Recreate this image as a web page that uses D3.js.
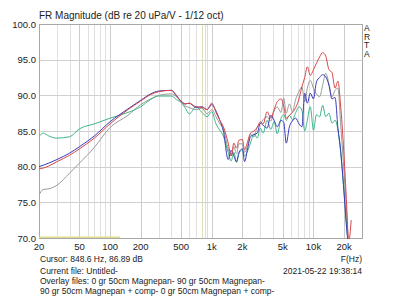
<!DOCTYPE html>
<html>
<head>
<meta charset="utf-8">
<script src="https://cdn.jsdelivr.net/npm/d3@7"></script>
<style>
  body { margin: 0; background: #fff; }
  svg { display: block; font-family: "Liberation Sans", Arial, sans-serif; }
</style>
</head>
<body>
<div id="chart"></div>
<script>
// frequency grid (Hz) shared by the four measured curves
const freqs = [20, 22, 25, 30, 40, 50, 70, 100, 150, 200, 250, 300, 400, 450, 500, 550, 600, 700, 800, 900,
  1000, 1100, 1200, 1300, 1450, 1550, 1650, 1750, 1850, 2000, 2100, 2250, 2400, 2600, 2800, 3000, 3200, 3500,
  3800, 4100, 4400, 4800, 5100, 5400, 5800, 6200, 6700, 7200, 7700, 8200, 8700, 9300, 10000, 10700, 11500,
  12300, 13200, 14200, 15200, 16300, 17400, 18500, 19700, 21000, 22200, 23500];

const grayCurrent = [76.0, 76.8, 76.9, 77.4, 79.1, 80.5, 82.7, 85.5, 87.2, 88.7, 89.5, 90.0, 90.2, 89.8, 89.1, 88.5, 88.3, 88.0, 88.2, 87.4,
  88.0, 87.0, 86.0, 85.3, 82.5, 81.5, 82.8, 81.8, 83.2, 83.2, 82.0, 83.0, 84.5, 84.2, 85.6, 86.0, 86.6, 87.0,
  86.4, 87.8, 88.4, 87.6, 89.6, 87.5, 88.8, 87.7, 89.5, 90.5, 91.2, 89.1, 91.0, 92.1, 91.0, 90.2, 89.8,
  91.4, 93.1, 91.6, 89.8, 90.7, 91.0, 86.0, 80.5, 74.5, 69.0, 67.0];

const green0gr = [84.2, 84.7, 84.3, 84.0, 84.2, 85.3, 86.0, 86.8, 87.6, 88.4, 89.4, 89.9, 89.9, 89.4, 89.0, 88.2, 87.4, 88.4, 87.6, 87.0,
  87.7, 86.0, 85.1, 84.3, 82.0, 80.8, 82.0, 80.6, 81.8, 82.4, 81.5, 82.2, 83.3, 84.6, 84.0, 85.4, 84.7, 86.5,
  85.2, 86.3, 84.6, 86.8, 87.3, 86.5, 87.2, 86.6, 87.6, 88.4, 87.9, 85.0, 86.5, 88.4, 85.1, 87.3, 87.0,
  88.6, 87.0, 87.5, 86.1, 86.5, 85.1, 82.0, 77.5, 72.5, 68.5, 67.0];

const red90gr = [79.7, 79.8, 80.1, 80.7, 81.6, 82.5, 84.0, 86.0, 88.0, 89.2, 90.1, 90.5, 90.7, 90.0, 89.1, 88.8, 88.9, 88.4, 88.3, 88.0,
  88.9, 87.6, 86.5, 85.6, 83.3, 81.5, 83.3, 82.6, 83.7, 83.8, 82.4, 83.5, 84.7, 85.0, 85.5, 86.3, 86.0, 87.7,
  86.8, 88.0, 89.1, 89.5, 88.5, 86.8, 87.2, 87.6, 88.3, 89.5, 91.2, 92.5, 94.0, 92.8, 93.6, 94.5, 95.4,
  96.0, 95.5, 93.6, 93.2, 91.0, 92.0, 88.5, 83.0, 75.8, 69.5, 72.5];

const blue90comp = [80.0, 80.2, 80.5, 81.0, 81.9, 82.8, 84.3, 86.3, 88.1, 89.3, 90.2, 90.6, 90.7, 89.9, 89.2, 88.8, 88.9, 88.3, 88.4, 88.0,
  88.7, 87.8, 86.5, 85.0, 81.0, 82.3, 81.5, 80.7, 82.0, 82.5, 80.7, 82.5, 84.2, 84.5, 84.7, 86.1, 85.8, 85.4,
  87.2, 86.5, 85.6, 86.5, 86.2, 83.3, 85.6, 86.4, 86.8, 86.0, 85.6, 90.3, 88.9, 90.3, 89.5, 91.9, 92.5,
  92.9, 92.6, 91.4, 89.5, 89.7, 85.4, 82.3, 77.5, 72.0, 68.5, 67.0];

// trace lying on the bottom of the plot
const floorFreqs = [20, 125];
const floorValues = [70.1, 70.1];

const yTicks = [70, 75, 80, 85, 90, 95, 100];
const xLabelTicks = [20, 50, 100, 200, 500, 1000, 2000, 5000, 10000, 20000];
const xGridTicks = [30, 40, 50, 60, 70, 80, 90, 100, 200, 300, 400, 500, 600, 700,
  1000, 2000, 3000, 4000, 5000, 6000, 7000, 8000, 9000, 10000, 20000];
const markerFreqs = [800, 848.6, 900];

const width = 400;
const height = 297;
const margin = { top: 24, right: 38, bottom: 59, left: 39 };

const svg = d3.select("#chart")
  .append("svg")
  .attr("width", width)
  .attr("height", height);

const x = d3.scaleLog()
  .domain([20, 30000])
  .range([margin.left, width - margin.right]);

const y = d3.scaleLinear()
  .domain([70, 100])
  .range([height - margin.bottom, margin.top]);

const fmtFreq = d => d >= 1000 ? (d / 1000) + "k" : String(d);

// grid
svg.append("g")
  .selectAll("line")
  .data(xGridTicks)
  .join("line")
  .attr("x1", d => Math.round(x(d)) + 0.5)
  .attr("x2", d => Math.round(x(d)) + 0.5)
  .attr("y1", margin.top)
  .attr("y2", height - margin.bottom)
  .attr("stroke", d => xLabelTicks.includes(d) ? "#cccccc" : "#e0e0e0")
  .attr("stroke-width", 1);

svg.append("g")
  .selectAll("line")
  .data(markerFreqs)
  .join("line")
  .attr("x1", d => Math.round(x(d)) + 0.5)
  .attr("x2", d => Math.round(x(d)) + 0.5)
  .attr("y1", margin.top)
  .attr("y2", height - margin.bottom)
  .attr("stroke", "#e2e0b8")
  .attr("stroke-width", 1);

svg.append("g")
  .selectAll("line")
  .data(yTicks.slice(1, -1))
  .join("line")
  .attr("x1", margin.left)
  .attr("x2", width - margin.right)
  .attr("y1", d => Math.round(y(d)) + 0.5)
  .attr("y2", d => Math.round(y(d)) + 0.5)
  .attr("stroke", "#d0d0d0");

// frame
svg.append("rect")
  .attr("x", margin.left + 0.5)
  .attr("y", margin.top + 0.5)
  .attr("width", width - margin.left - margin.right)
  .attr("height", height - margin.top - margin.bottom)
  .attr("fill", "none")
  .attr("stroke", "#a8a8a8");

svg.append("clipPath")
  .attr("id", "plot-clip")
  .append("rect")
  .attr("x", margin.left)
  .attr("y", margin.top)
  .attr("width", width - margin.left - margin.right)
  .attr("height", height - margin.top - margin.bottom + 1);

const line = d3.line()
  .x(d => x(d[0]))
  .y(d => y(d[1]))
  .curve(d3.curveMonotoneX);

const series = [
  { values: grayCurrent, color: "#9a9a9a" },
  { values: green0gr, color: "#3fb58c" },
  { values: blue90comp, color: "#3a3ab8" },
  { values: red90gr, color: "#d84848" }
];

const plot = svg.append("g").attr("clip-path", "url(#plot-clip)");

plot.append("path")
  .attr("d", line(floorFreqs.map((f, i) => [f, floorValues[i]])))
  .attr("fill", "none")
  .attr("stroke", "#dede8a")
  .attr("stroke-width", 1.5);

plot.selectAll("path.curve")
  .data(series)
  .join("path")
  .attr("class", "curve")
  .attr("d", s => line(freqs.map((f, i) => [f, s.values[i]])))
  .attr("fill", "none")
  .attr("stroke", s => s.color)
  .attr("stroke-width", 1);

// axis labels
svg.append("g")
  .selectAll("text")
  .data(yTicks)
  .join("text")
  .attr("x", margin.left - 3)
  .attr("y", d => y(d) + 3.5)
  .attr("text-anchor", "end")
  .attr("font-size", "9.5px")
  .attr("fill", "#222")
  .text(d => d.toFixed(1));

svg.append("g")
  .selectAll("text")
  .data(xLabelTicks)
  .join("text")
  .attr("x", d => x(d))
  .attr("y", 250)
  .attr("text-anchor", "middle")
  .attr("font-size", "9.5px")
  .attr("fill", "#222")
  .text(fmtFreq);

svg.append("text")
  .attr("x", margin.left)
  .attr("y", 19)
  .attr("font-size", "10px")
  .attr("fill", "#222")
  .text("FR Magnitude (dB re 20 uPa/V - 1/12 oct)");

svg.append("g")
  .selectAll("text")
  .data(["A", "R", "T", "A"])
  .join("text")
  .attr("x", width - margin.right + 2)
  .attr("y", (d, i) => 31 + i * 8.5)
  .attr("font-size", "8.5px")
  .attr("fill", "#222")
  .text(d => d);

const info = svg.append("g")
  .attr("font-size", "8.5px")
  .attr("fill", "#222");

info.append("text").attr("x", 40).attr("y", 262).text("Cursor: 848.6 Hz, 86.89 dB");
info.append("text").attr("x", 362).attr("y", 262).attr("text-anchor", "end").text("F(Hz)");
info.append("text").attr("x", 40).attr("y", 274).text("Current file: Untitled-");
info.append("text").attr("x", 362).attr("y", 274).attr("text-anchor", "end").text("2021-05-22   19:38:14");
info.append("text").attr("x", 40).attr("y", 283.5).text("Overlay files: 0 gr 50cm Magnepan- 90 gr 50cm Magnepan-");
info.append("text").attr("x", 40).attr("y", 294).text("90 gr 50cm Magnepan + comp- 0 gr 50cm Magnepan + comp-");
</script>
</body>
</html>
